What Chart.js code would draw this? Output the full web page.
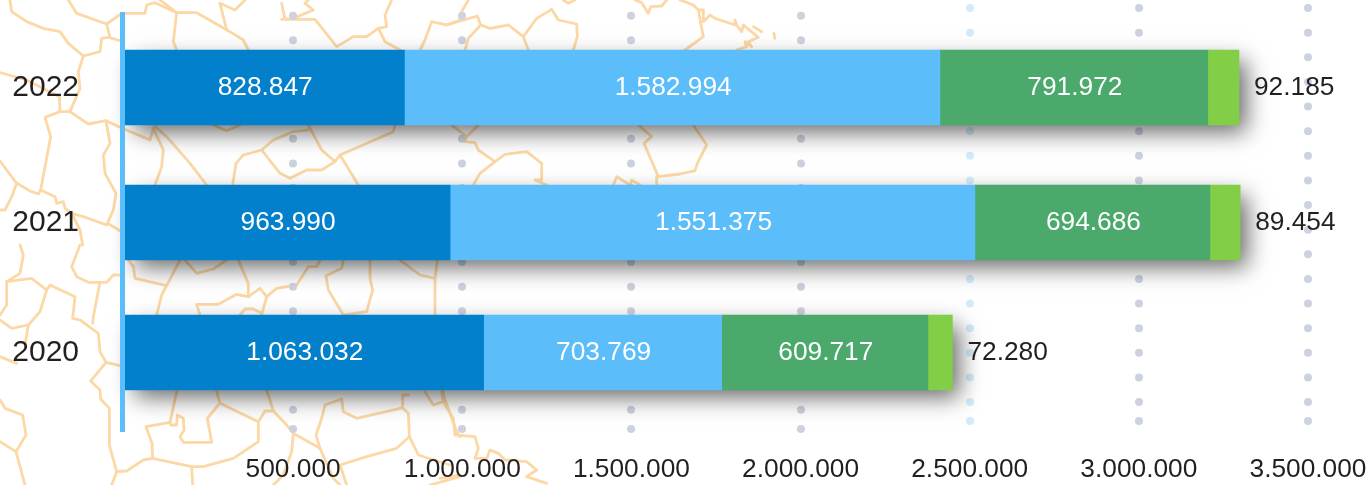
<!DOCTYPE html>
<html>
<head>
<meta charset="utf-8">
<style>
html,body{margin:0;padding:0;background:#fff;}
canvas{display:block;}
</style>
<script src="https://cdn.jsdelivr.net/npm/chart.js@4/dist/chart.umd.js"></script>
</head>
<body>
<canvas id="c" width="1371" height="485"></canvas>
<script>
// ---- data ----
const categories = ['2022', '2021', '2020'];
const seriesA = [828847, 963990, 1063032];
const seriesB = [1582994, 1551375, 703769];
const seriesC = [791972, 694686, 609717];
const seriesD = [92185, 89454, 72280];
const seriesColors = ['#0280cc', '#5bbdf9', '#4aa96b', '#82cf47'];
const axisMax = 3500000;
const axisStep = 500000;

// ---- layout ----
const ROW_CENTRES = [87.5, 222.5, 352.5];
const FONT = '"Liberation Sans", Helvetica, Arial, sans-serif';
const INK = '#231f20';
const fmt = v => String(v).replace(/\B(?=(\d{3})+$)/g, '.');

// decorative map backdrop: [offsetX, offsetY, points at 3x]
const MAP = [
 [0,0,[30,0,35,35,80,65,130,85,180,95,205,130,250,168,300,155,305,115,325,112,360,122]],
 [0,0,[205,0,230,40,320,72,330,112]],
 [0,0,[320,72,365,40,435,40,440,15,465,8,530,38,590,38,690,95,730,120,745,150]],
 [0,0,[530,38,520,125,530,150]],[0,0,[480,0,530,38]],[0,0,[660,10,680,90]],[0,0,[660,10,705,30,735,0]],
 [0,0,[250,168,235,215,240,265,210,335,180,335,178,290]],[0,0,[0,218,80,240,178,290]],
 [0,0,[210,335,265,372,318,362,360,382,450,420,460,385]],[0,0,[180,335,135,352,152,410,122,570]],
 [0,0,[318,362,330,430,310,465,315,520,348,580,340,630,322,670,360,692]],
 [0,0,[0,483,50,550,60,555,85,570,95,575,115,582,122,570,165,590,170,610,190,605,195,625,215,640,250,650,320,675]],
 [0,0,[50,550,35,590,15,630,0,630]],[0,0,[215,640,240,690,248,735]],
 [0,0,[460,385,490,450,485,500,465,555]],[0,0,[465,380,500,410,570,490,620,555]],[0,0,[640,375,680,392,720,375]],
 [0,0,[925,375,965,450,1005,485,965,510,920,510,870,535,840,520,785,450]],
 [0,0,[1185,375,1180,395,1020,465,1005,485]],[0,0,[1020,465,1075,555]],
 [0,0,[785,450,730,465,708,490,698,555]],[0,0,[785,450,820,420,880,395,925,390]],
 [0,0,[845,10,855,58,945,58,1010,140,1060,110,1100,110,1135,85,1155,125,1200,150]],
 [0,0,[845,58,880,55,940,30,915,10,925,0]],[0,0,[1135,85,1160,80,1155,45,1175,0]],
 [0,0,[1260,150,1275,120,1295,65,1340,75,1380,60]],
 [0,245,[60,0,70,30,60,85,20,110,95,100,140,135,120,200,85,240,35,250,0,225]],
 [0,245,[20,110,20,180,0,210]],[0,245,[85,240,75,300]],
 [0,245,[240,0,215,65,230,95,265,112,320,112,340,90,360,90]],[0,245,[300,112,280,215,278,235]],
 [0,245,[140,135,150,120,225,155,218,220,240,225,295,265,300,320,318,352,360,362]],
 [0,245,[0,335,50,355]],
 [0,245,[318,352,272,408,300,435,302,462,328,490,328,600,350,680,335,720]],
 [0,245,[0,465,15,490,68,510,78,570,48,620,0,590]],[0,245,[48,620,75,720]],
 [0,245,[350,680,380,678,430,645,458,640,575,665,610,665,700,640,775,590,775,530,660,475,650,440]],
 [0,245,[458,640,456,595,438,545,510,532,530,440]],
 [0,245,[510,532,512,540,530,540,532,510,550,520,552,555,540,575,550,592,635,592,622,520,655,480]],
 [0,245,[575,665,578,720]],
 [0,245,[775,530,795,498,820,498,800,435]],
 [0,245,[820,498,860,540,880,565,960,610,1000,700,1020,720]],
 [0,245,[880,565,875,620,850,690,820,720]],
 [0,245,[1040,720,1020,660,1100,635,1190,610,1228,575,1225,505,1208,488,1208,450,1225,450]],
 [0,245,[965,520,975,480,1025,462,1030,500,1070,520,1200,490,1208,488]],[0,245,[965,520,948,570,960,610]],
 [0,245,[1228,575,1255,630,1350,660]],[0,245,[1290,720,1380,695]],
 [0,245,[1275,440,1300,480,1330,470,1325,440]],[0,245,[1330,450,1370,560,1380,575]],
 [0,245,[385,45,400,65,405,100,500,122,540,45]],[0,245,[500,122,485,150,470,210]],
 [0,245,[555,45,590,85,640,72,680,45]],
 [0,245,[715,45,745,115,745,155,710,148,655,178,590,178,600,210]],
 [0,245,[745,155,780,130,800,155,785,210]],
 [0,245,[800,155,830,130,890,120,925,65,950,65,960,45]],
 [0,245,[720,210,735,192,760,192,785,205]],
 [0,245,[1030,45,1025,70,978,92,985,135,1030,210,1100,200,1118,135,1110,100,1110,45]],
 [0,245,[1200,45,1260,90,1305,100,1312,45]],[0,245,[1305,100,1305,210]],
 [440,0,[0,70,20,75,112,48,122,75,150,85,205,75,250,110,290,55,335,28,355,60,410,72,412,110,400,150]],
 [440,0,[85,0,65,35]],[440,0,[122,75,85,115,75,150]],[440,0,[250,110,265,150]],[440,0,[370,0,385,10,405,0]],
 [440,0,[585,0,605,8,625,40,632,20,665,18,680,0]],
 [440,0,[720,0,760,15,775,30,790,110,735,150]],
 [440,0,[775,30,790,30,790,65,810,45,825,55,885,75,885,60,890,75,905,95,910,75,955,112,925,125,935,140,915,125,920,140,890,150]],
 [440,0,[940,80,965,95]],[440,0,[1002,100,1004,115]],
 [440,0,[35,375,80,410,115,375]],
 [440,0,[80,410,75,425,105,428,115,450,165,485,195,463,260,455,305,490,305,540,285,540,320,555]],
 [440,0,[165,485,120,520,100,555]],
 [440,0,[595,375,635,410,612,430,655,530,720,522,765,512,772,490,800,435,760,375]],
 [440,0,[650,530,650,555]],[440,0,[520,555,530,530,570,555,575,540,600,555]],
 [440,245,[10,440,15,480,40,520,45,570,105,575,115,610,105,640,140,640,150,615,175,625,195,645,260,650,290,675,260,695,320,715]],
 [440,245,[0,700,60,690]]
];

class PlacedCategoryScale extends Chart.CategoryScale {
  getPixelForValue(value) {
    const i = typeof value === 'number' ? value : this.parse(value);
    return ROW_CENTRES[i];
  }
}
PlacedCategoryScale.id = 'placedCategory';
PlacedCategoryScale.defaults = Chart.CategoryScale.defaults;
Chart.register(PlacedCategoryScale);

const backdrop = {
  id: 'backdrop',
  beforeDraw(chart) {
    const ctx = chart.ctx;
    ctx.save();
    ctx.strokeStyle = '#fcd8a6';
    ctx.lineWidth = 2.8;
    ctx.lineJoin = 'round';
    ctx.lineCap = 'round';
    for (const [ox, oy, p] of MAP) {
      ctx.beginPath();
      for (let i = 0; i < p.length; i += 2) {
        const x = ox + p[i] / 3, y = oy + p[i + 1] / 3;
        if (i === 0) ctx.moveTo(x, y); else ctx.lineTo(x, y);
      }
      ctx.stroke();
    }
    ctx.restore();
    ctx.lineCap = 'round'; // grid dots
  }
};

const barShadow = {
  id: 'barShadow',
  beforeDatasetsDraw(chart) {
    const ctx = chart.ctx;
    const first = chart.getDatasetMeta(0).data;
    const last = chart.getDatasetMeta(chart.data.datasets.length - 1).data;
    ctx.save();
    ctx.shadowColor = 'rgba(0,0,0,0.6)';
    ctx.shadowBlur = 22;
    ctx.shadowOffsetX = 9;
    ctx.shadowOffsetY = 9;
    ctx.fillStyle = '#888';
    first.forEach((el, i) => {
      const top = el.y - el.height / 2;
      ctx.fillRect(el.base + 2, top + 2, last[i].x - el.base - 4, el.height - 4);
    });
    ctx.restore();
  }
};

const overlay = {
  id: 'overlay',
  afterDatasetsDraw(chart) {
    const ctx = chart.ctx;
    const left = chart.scales.x.left;
    ctx.save();
    ctx.fillStyle = '#5bbdf9';
    ctx.fillRect(left - 4, 12, 5, 420);
    ctx.textBaseline = 'middle';
    ctx.font = '26.3px ' + FONT;
    chart.data.datasets.forEach((ds, d) => {
      const isLast = d === chart.data.datasets.length - 1;
      chart.getDatasetMeta(d).data.forEach((el, i) => {
        const txt = fmt(ds.data[i]);
        if (isLast) {
          ctx.fillStyle = INK;
          ctx.textAlign = 'left';
          ctx.fillText(txt, el.x + 15, el.y + 0.5);
        } else {
          ctx.fillStyle = '#fff';
          ctx.textAlign = 'center';
          ctx.fillText(txt, (el.x + el.base) / 2 + 1, el.y + 0.5);
        }
      });
    });
    ctx.restore();
  }
};

const dotColor = c => {
  const v = c.tick ? c.tick.value : 0;
  if (v === 0) return 'rgba(0,0,0,0)';
  return v === 2500000 ? '#d4ecfa' : '#ccd3df';
};
const dotWidth = c => (c.tick && c.tick.value !== 0) ? 8 : 0;
const isEarly = c => c.tick && c.tick.value < 2500000;

new Chart(document.getElementById('c').getContext('2d'), {
  type: 'bar',
  data: {
    labels: categories,
    datasets: [seriesA, seriesB, seriesC, seriesD].map((data, i) => ({
      data,
      backgroundColor: seriesColors[i],
      borderWidth: 0,
      barThickness: 75
    }))
  },
  options: {
    indexAxis: 'y',
    responsive: false,
    animation: false,
    devicePixelRatio: 1,
    layout: { padding: { top: 8, right: 63, bottom: 0, left: 0 } },
    plugins: { legend: { display: false }, tooltip: { enabled: false }, title: { display: false } },
    scales: {
      x: {
        type: 'linear',
        stacked: true,
        min: 0,
        max: axisMax,
        border: {
          display: false,
          dash: [0, 24.63],
          dashOffset: c => isEarly(c) ? -7.7 : 0
        },
        grid: {
          color: dotColor,
          tickColor: dotColor,
          lineWidth: dotWidth,
          tickWidth: dotWidth,
          tickLength: 9,
          tickBorderDash: [0, 100],
          tickBorderDashOffset: c => isEarly(c) ? -8 : 0
        },
        ticks: {
          stepSize: axisStep,
          color: INK,
          font: { family: FONT, size: 26.3 },
          padding: 24,
          maxRotation: 0,
          autoSkip: false,
          callback: v => v === 0 ? '' : fmt(v)
        },
        afterFit(s) { s.height = 64; s.paddingLeft = 0; s.paddingRight = 0; }
      },
      y: {
        type: 'placedCategory',
        stacked: true,
        border: { display: false },
        grid: { display: false, drawTicks: false },
        ticks: {
          color: INK,
          font: { family: FONT, size: 30 },
          padding: 45
        },
        afterFit(s) { s.width = 124; s.paddingTop = 0; s.paddingBottom = 0; }
      }
    }
  },
  plugins: [backdrop, barShadow, overlay]
});
</script>
</body>
</html>
